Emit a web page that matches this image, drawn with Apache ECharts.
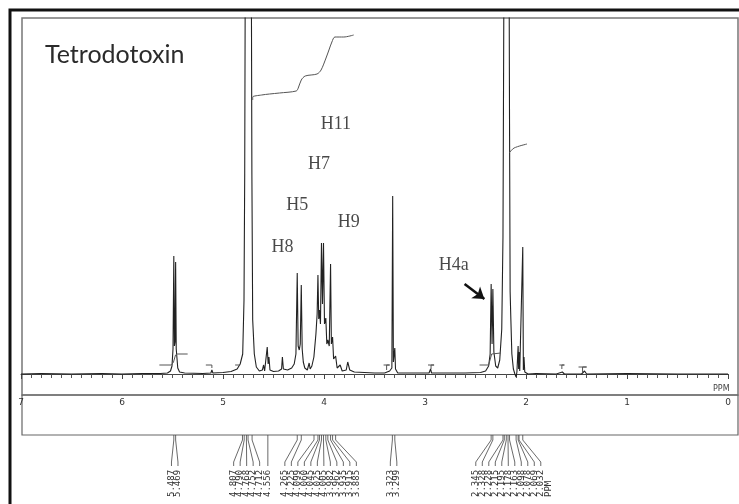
<!DOCTYPE html>
<html>
<head>
<meta charset="utf-8">
<title>Tetrodotoxin 1H NMR</title>
<script src="https://cdn.jsdelivr.net/npm/echarts@6/dist/echarts.min.js"></script>
<style>
  html, body { margin: 0; padding: 0; background: #fff; }
  #chart { width: 739px; height: 504px; }
</style>
</head>
<body>
<div id="chart"></div>
<script>
// trace: [ppm, height above baseline]
const spectrum = [
  [7.00, 0], [6.80, 0.5], [6.50, 0], [6.20, 0.5], [6.00, 0], [5.80, 0.5], [5.62, 0.5],
  [5.55, 1], [5.52, 3], [5.505, 8], [5.495, 25], [5.487, 118], [5.481, 28], [5.475, 32], [5.469, 112],
  [5.463, 25], [5.455, 15], [5.448, 6], [5.43, 2], [5.38, 1],
  [5.20, 0.5], [5.12, 1], [5.11, 4], [5.10, 1], [5.00, 1.5], [4.92, 2.5],
  [4.86, 5], [4.83, 10], [4.805, 20], [4.792, 74], [4.785, 200], [4.777, 500], [4.722, 500],
  [4.714, 200], [4.706, 54], [4.69, 20], [4.67, 7], [4.64, 3],
  [4.61, 4], [4.598, 9], [4.588, 3], [4.572, 5], [4.562, 27], [4.553, 10], [4.545, 17], [4.535, 4],
  [4.50, 2.5], [4.45, 3], [4.42, 5], [4.412, 17], [4.402, 5], [4.36, 4], [4.32, 6], [4.295, 10], [4.278, 20],
  [4.265, 101], [4.256, 28], [4.245, 24], [4.235, 30], [4.225, 89], [4.216, 25], [4.205, 12], [4.19, 6],
  [4.165, 4], [4.147, 11], [4.137, 5], [4.12, 8],
  [4.10, 17], [4.08, 40], [4.068, 60], [4.06, 99], [4.052, 55], [4.045, 64], [4.035, 50], [4.025, 131],
  [4.015, 70], [4.005, 131], [3.995, 50], [3.982, 56], [3.972, 30], [3.962, 34], [3.948, 28], [3.935, 110],
  [3.927, 30], [3.915, 37], [3.905, 15], [3.885, 18], [3.87, 6], [3.84, 9], [3.82, 3], [3.78, 4],
  [3.765, 12], [3.755, 10], [3.745, 4], [3.70, 2], [3.50, 1], [3.40, 1], [3.35, 3],
  [3.328, 6], [3.320, 178], [3.313, 12], [3.305, 14], [3.299, 26], [3.292, 5], [3.27, 1], [3.10, 1],
  [2.96, 1], [2.945, 5], [2.935, 1], [2.86, 1], [2.845, 3], [2.835, 1], [2.60, 1], [2.45, 1.5],
  [2.40, 3], [2.37, 8], [2.355, 20],
  [2.345, 90], [2.336, 30], [2.328, 85], [2.318, 22], [2.30, 8], [2.28, 6], [2.26, 14], [2.24, 45],
  [2.228, 137], [2.222, 300], [2.215, 500], [2.170, 500], [2.163, 250], [2.157, 82], [2.150, 55],
  [2.14, 20], [2.125, 5], [2.11, 0], [2.098, -3], [2.09, 2], [2.078, 28], [2.073, 5], [2.069, 22],
  [2.062, 3], [2.045, 2], [2.032, 127], [2.026, 4], [2.020, 17], [2.012, 2], [1.98, 0], [1.90, 0.5],
  [1.70, 0], [1.64, 2], [1.62, 0], [1.45, 0], [1.42, 3], [1.40, 0], [1.00, 0.5], [0.50, 0], [0.00, 0]
];

// integral traces
const integralMain = [
  [4.706, 274], [4.706, 277], [4.618, 279], [4.539, 280], [4.441, 281], [4.275, 283], [4.255, 286],
  [4.225, 294], [4.186, 298], [4.069, 300], [4.029, 304], [3.980, 316], [3.951, 324], [3.922, 332],
  [3.892, 337], [3.804, 337], [3.706, 339]
];
const integralSide = [[2.167, 221], [2.118, 226], [1.990, 230]];
const integralMarks = [
  [[5.63, 9], [5.51, 9], [5.49, 12], [5.47, 19], [5.45, 20], [5.35, 20]],
  [[5.17, 9], [5.11, 9], [5.11, 6]],
  [[4.88, 9], [4.83, 9]],
  [[3.41, 9], [3.35, 9], [3.38, 9], [3.38, 4]],
  [[2.97, 9], [2.91, 9], [2.94, 9], [2.94, 5]],
  [[2.46, 9], [2.37, 9], [2.34, 20], [2.25, 21]],
  [[1.67, 9], [1.62, 9], [1.645, 9], [1.645, 5]],
  [[1.48, 7], [1.40, 7], [1.44, 7], [1.44, 2]]
];

// peak pick list printed under the scale
const peakLabels = [
  5.487, 5.469,
  4.807, 4.790, 4.768, 4.752, 4.712, 4.556,
  4.265, 4.225, 4.099, 4.060, 4.045, 4.025, 4.005, 3.982, 3.962, 3.935, 3.915, 3.885,
  3.323, 3.299,
  2.345, 2.328, 2.228, 2.215, 2.195, 2.178, 2.163, 2.098, 2.078, 2.069, 2.032
];

// proton assignments and the arrow to H4a
const annotationNames = ['H11', 'H7', 'H5', 'H9', 'H8', 'H4a'];
const annotationPos = [[3.882, 250], [4.049, 210], [4.265, 169], [3.755, 152], [4.41, 127], [2.716, 109]];
const arrowLine = [[2.608, 90], [2.412, 75]];

const yMin = -21;
const yMax = 356;
const traceColor = '#222';

let labelLayout = null;

function layoutPeakLabels(api) {
  const gap = 6.5;
  const stubs = peakLabels.map(v => api.coord([v, yMin])[0]);
  const clusters = stubs.map((s, i) => ({ from: i, to: i }));
  const place = c => {
    let mean = 0;
    for (let i = c.from; i <= c.to; i++) mean += stubs[i];
    const n = c.to - c.from + 1;
    mean /= n;
    c.first = mean - (n - 1) * gap / 2;
    c.last = c.first + (n - 1) * gap;
  };
  clusters.forEach(place);
  let merged = true;
  while (merged) {
    merged = false;
    for (let k = 0; k < clusters.length - 1; k++) {
      if (clusters[k].last + gap > clusters[k + 1].first + 0.01) {
        clusters[k].to = clusters[k + 1].to;
        clusters.splice(k + 1, 1);
        place(clusters[k]);
        merged = true;
        break;
      }
    }
  }
  const pos = [];
  clusters.forEach(c => {
    for (let i = c.from; i <= c.to; i++) pos[i] = c.first + (i - c.from) * gap;
  });
  return { stubs, pos, gap };
}

function renderPeakLabel(params, api) {
  if (params.dataIndex === 0 || !labelLayout) labelLayout = layoutPeakLabels(api);
  const i = params.dataIndex;
  const sx = labelLayout.stubs[i];
  const lx = labelLayout.pos[i];
  const yBox = api.coord([peakLabels[i], yMin])[1] + 40;
  const children = [
    {
      type: 'polyline',
      shape: { points: [[sx, yBox], [sx, yBox + 5], [lx, yBox + 27], [lx, yBox + 31]] },
      style: { stroke: '#444', lineWidth: 0.8, fill: null }
    },
    {
      type: 'text',
      x: lx, y: yBox + 62, rotation: Math.PI / 2,
      style: { text: peakLabels[i].toFixed(3), fill: '#333', font: '9px "DejaVu Sans Mono"', align: 'left', verticalAlign: 'middle' }
    }
  ];
  if (i === peakLabels.length - 1) {
    children.push({
      type: 'text',
      x: lx + labelLayout.gap + 1, y: yBox + 62, rotation: Math.PI / 2,
      style: { text: 'PPM', fill: '#333', font: '9px "DejaVu Sans Mono"', align: 'left', verticalAlign: 'middle' }
    });
  }
  return { type: 'group', children };
}

const chart = echarts.init(document.getElementById('chart'));

const hiddenAxis = idx => ({ gridIndex: idx, type: 'value', show: false, min: 0, max: 1 });

const series = [
  {
    type: 'line',
    xAxisIndex: 2, yAxisIndex: 2,
    data: spectrum,
    showSymbol: false,
    clip: true,
    lineStyle: { color: traceColor, width: 1.1 }
  },
  {
    type: 'line',
    xAxisIndex: 2, yAxisIndex: 2,
    data: integralMain,
    showSymbol: false,
    smooth: 0.3,
    lineStyle: { color: '#555', width: 1 }
  },
  {
    type: 'line',
    xAxisIndex: 2, yAxisIndex: 2,
    data: integralSide,
    showSymbol: false,
    smooth: 0.3,
    lineStyle: { color: '#555', width: 1 }
  },
  {
    type: 'scatter',
    xAxisIndex: 2, yAxisIndex: 2,
    symbolSize: 0,
    data: annotationPos.map((p, i) => ({ name: annotationNames[i], value: p })),
    label: {
      show: true,
      position: 'inside',
      formatter: '{b}',
      fontFamily: '"Liberation Serif", serif',
      fontSize: 18,
      color: '#1a1a1a'
    }
  },
  {
    type: 'lines',
    coordinateSystem: 'cartesian2d',
    xAxisIndex: 2, yAxisIndex: 2,
    symbol: ['none', 'arrow'],
    symbolSize: 11,
    lineStyle: { color: '#111', width: 2.5, opacity: 1 },
    data: [{ coords: arrowLine }]
  },
  {
    type: 'custom',
    xAxisIndex: 2, yAxisIndex: 2,
    data: peakLabels.map(v => [v, yMin]),
    renderItem: renderPeakLabel
  }
];

integralMarks.forEach(seg => {
  series.push({
    type: 'line',
    xAxisIndex: 2, yAxisIndex: 2,
    data: seg,
    showSymbol: false,
    lineStyle: { color: '#555', width: 1 }
  });
});

const option = {
  animation: false,
  backgroundColor: '#fff',
  title: {
    text: 'Tetrodotoxin',
    left: 40,
    top: 37,
    textStyle: { fontFamily: 'Lato', fontSize: 25, fontWeight: 'normal', color: '#2b2b2b' }
  },
  graphic: [
    {
      type: 'rect',
      shape: { x: 10, y: 10, width: 740, height: 500 },
      style: { stroke: '#111', lineWidth: 3, fill: null }
    },
    {
      type: 'text',
      left: 713, top: 385,
      style: { text: 'PPM', fill: '#444', font: '8px "DejaVu Sans"' }
    }
  ],
  grid: [
    { left: 22, top: 18, width: 716, height: 377, show: true, borderColor: '#777', borderWidth: 1.5 },
    { left: 22, top: 395, width: 716, height: 40, show: true, borderColor: '#666', borderWidth: 1.2 },
    { left: 21, top: 18, width: 707, height: 377 }
  ],
  xAxis: [
    hiddenAxis(0),
    hiddenAxis(1),
    {
      gridIndex: 2,
      type: 'value',
      min: 0, max: 7, interval: 1,
      inverse: true,
      axisLine: { show: true, lineStyle: { color: '#444', width: 1 } },
      axisTick: { show: true, length: 5, lineStyle: { color: '#444' } },
      minorTick: { show: true, splitNumber: 10, length: 4, lineStyle: { color: '#555' } },
      axisLabel: { margin: 3, fontSize: 9, color: '#333', fontFamily: '"DejaVu Sans"' },
      splitLine: { show: false },
      minorSplitLine: { show: false }
    }
  ],
  yAxis: [
    hiddenAxis(0),
    hiddenAxis(1),
    { gridIndex: 2, type: 'value', min: yMin, max: yMax, show: false, splitLine: { show: false } }
  ],
  series
};

chart.setOption(option);
</script>
</body>
</html>
